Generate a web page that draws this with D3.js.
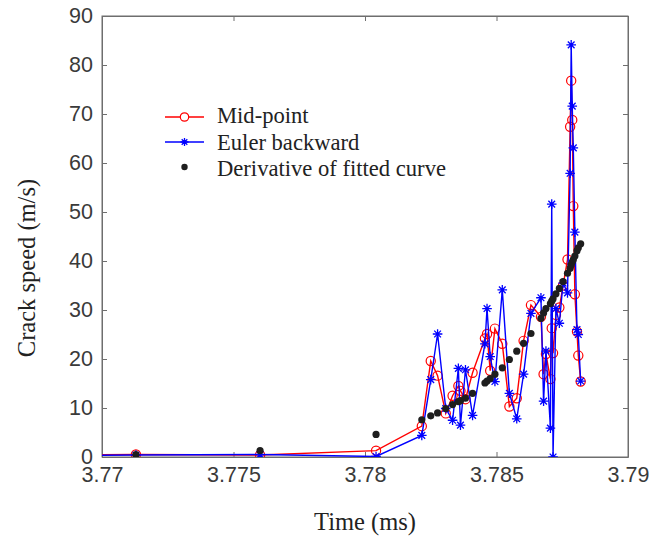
<!DOCTYPE html>
<html>
<head>
<meta charset="utf-8">
<script src="https://cdn.jsdelivr.net/npm/d3@7"></script>
<style>
  body { margin: 0; background: #fff; }
  svg { display: block; }
</style>
</head>
<body>
<svg id="chart" width="649" height="541"></svg>
<script>
// time stamps (ms), shared by all three series
const timeMs = [3.7695, 3.77129, 3.77601, 3.78042, 3.78216, 3.78250, 3.78276, 3.78307, 3.78333, 3.78355,
  3.78363, 3.78382, 3.78409, 3.78456, 3.78464, 3.78476, 3.78494, 3.78522, 3.78549, 3.78577,
  3.78603, 3.78631, 3.78669, 3.78679, 3.78688, 3.78705, 3.78710, 3.78715, 3.78726, 3.78739,
  3.78753, 3.78770, 3.78780, 3.78784, 3.78788, 3.78792, 3.78798, 3.78806, 3.78811, 3.78820];

const midPoint = [0.45, 0.5, 0.4, 1.3, 6.3, 19.6, 16.6, 8.9, 12.5, 14.5,
  13.5, 11.8, 17.2, 24.2, 25.1, 17.6, 26.2, 23.1, 10.3, 12.0,
  23.7, 31.0, 28.6, 16.9, 21.0, 15.9, 26.3, 21.2, 29.0, 30.5,
  35.0, 40.3, 67.4, 76.8, 68.8, 51.2, 33.2, 25.6, 20.7, 15.4];

const eulerBackward = [0.35, 0.4, 0.5, 0.1, 4.4, 15.8, 25.1, 9.9, 7.5, 18.1,
  6.5, 17.8, 8.5, 23.1, 30.3, 20.5, 15.4, 34.1, 13.0, 7.8,
  16.9, 29.3, 32.5, 11.4, 21.6, 5.9, 51.6, 0.0, 30.3, 27.3,
  35.5, 33.5, 57.9, 84.1, 71.6, 63.1, 45.9, 26.0, 25.0, 15.5];

const fittedDerivative = [0.4, 0.5, 1.3, 4.6, 7.6, 8.4, 9.0, 9.9, 10.7, 11.3,
  11.5, 12.0, 13.0, 15.1, 15.5, 16.0, 16.9, 18.2, 19.9, 21.6,
  23.2, 25.2, 28.3, 29.4, 30.3, 31.3, 31.8, 32.3, 33.3, 34.4,
  35.8, 37.5, 38.5, 39.2, 39.8, 40.3, 41.0, 42.1, 42.7, 43.5];

const xTicks = [3.77, 3.775, 3.78, 3.785, 3.79];
const yTicks = [0, 10, 20, 30, 40, 50, 60, 70, 80, 90];
const legendLabels = ["Mid-point", "Euler backward", "Derivative of fitted curve"];

const svg = d3.select("#chart");
const plotLeft = 102, plotRight = 628, plotTop = 16, plotBottom = 457;

const x = d3.scaleLinear().domain([3.77, 3.79]).range([plotLeft, plotRight]);
const y = d3.scaleLinear().domain([0, 90]).range([plotBottom, plotTop]);

const sans = "'Liberation Sans', Arial, sans-serif";
const serif = "'Liberation Serif', 'Times New Roman', serif";

// clip for the data
svg.append("clipPath").attr("id", "plotClip")
  .append("rect").attr("x", plotLeft).attr("y", plotTop - 6)
  .attr("width", plotRight - plotLeft).attr("height", plotBottom - plotTop + 6);

// axes (box with inward ticks)
const axisColor = "#6e6e6e";
const xAxis = svg.append("g").attr("transform", `translate(0,${plotBottom})`)
  .call(d3.axisBottom(x).tickValues(xTicks).tickSizeInner(-5).tickSizeOuter(0).tickPadding(9)
    .tickFormat(d3.format("")));
const yAxis = svg.append("g").attr("transform", `translate(${plotLeft},0)`)
  .call(d3.axisLeft(y).tickValues(yTicks).tickSizeInner(-5).tickSizeOuter(0).tickPadding(9));
const xTop = svg.append("g").attr("transform", `translate(0,${plotTop})`)
  .call(d3.axisTop(x).tickValues(xTicks).tickSizeInner(-5).tickSizeOuter(0).tickFormat(""));
const yRight = svg.append("g").attr("transform", `translate(${plotRight},0)`)
  .call(d3.axisRight(y).tickValues(yTicks).tickSizeInner(-5).tickSizeOuter(0).tickFormat(""));

[xAxis, yAxis, xTop, yRight].forEach((a) => {
  a.select(".domain").attr("stroke", axisColor).attr("stroke-width", 1);
  a.selectAll(".tick line").attr("stroke", axisColor);
  a.selectAll(".tick text").attr("fill", "#3a3a3a")
    .style("font-family", sans).style("font-size", "21.5px");
});
// frame round the plot
svg.append("rect").attr("x", plotLeft).attr("y", plotTop)
  .attr("width", plotRight - plotLeft).attr("height", plotBottom - plotTop)
  .attr("fill", "none").attr("stroke", axisColor).attr("stroke-width", 1);
xAxis.selectAll(".tick text").attr("dy", "0.75em");

// axis labels
svg.append("text").attr("x", (plotLeft + plotRight) / 2).attr("y", 530)
  .attr("text-anchor", "middle").style("font-family", serif).style("font-size", "24.5px")
  .attr("fill", "#222").text("Time (ms)");
svg.append("text").attr("transform", "translate(35,268) rotate(-90)")
  .attr("text-anchor", "middle").style("font-family", serif).style("font-size", "24.5px")
  .attr("fill", "#222").text("Crack speed (m/s)");

const plot = svg.append("g").attr("clip-path", "url(#plotClip)");

const rows = timeMs.map((t, i) => ({ t, mid: midPoint[i], euler: eulerBackward[i], deriv: fittedDerivative[i] }));

const line = (key) => d3.line().x((d) => x(d.t)).y((d) => y(d[key]));

const starPath = (s) => `M${-s},0L${s},0M0,${-s}L0,${s}M${-s * 0.7},${-s * 0.7}L${s * 0.7},${s * 0.7}M${-s * 0.7},${s * 0.7}L${s * 0.7},${-s * 0.7}`;

// Mid-point (red)
plot.append("path").datum(rows).attr("d", line("mid"))
  .attr("fill", "none").attr("stroke", "#ff0000").attr("stroke-width", 1.4);
plot.selectAll("circle.mid").data(rows).join("circle").attr("class", "mid")
  .attr("cx", (d) => x(d.t)).attr("cy", (d) => y(d.mid)).attr("r", 4.6)
  .attr("fill", "none").attr("stroke", "#ff0000").attr("stroke-width", 1.2);

// Euler backward (blue)
plot.append("path").datum(rows).attr("d", line("euler"))
  .attr("fill", "none").attr("stroke", "#0000ff").attr("stroke-width", 1.4);
plot.selectAll("path.euler").data(rows).join("path").attr("class", "euler")
  .attr("transform", (d) => `translate(${x(d.t)},${y(d.euler)})`)
  .attr("d", starPath(4.8)).attr("stroke", "#0000ff").attr("stroke-width", 1.3);

// Derivative of fitted curve (black dots)
plot.selectAll("circle.deriv").data(rows).join("circle").attr("class", "deriv")
  .attr("cx", (d) => x(d.t)).attr("cy", (d) => y(d.deriv)).attr("r", 3.6)
  .attr("fill", "#1e1e1e");

// legend
const legendY = [117, 142, 167];
const lg = svg.append("g");
legendLabels.forEach((label, i) => {
  const yy = legendY[i];
  if (i === 0) {
    lg.append("line").attr("x1", 165).attr("x2", 204).attr("y1", yy).attr("y2", yy)
      .attr("stroke", "#ff0000").attr("stroke-width", 1.4);
    lg.append("circle").attr("cx", 184.5).attr("cy", yy).attr("r", 4.2)
      .attr("fill", "#fff").attr("stroke", "#ff0000").attr("stroke-width", 1.2);
  } else if (i === 1) {
    lg.append("line").attr("x1", 165).attr("x2", 204).attr("y1", yy).attr("y2", yy)
      .attr("stroke", "#0000ff").attr("stroke-width", 1.4);
    lg.append("path").attr("transform", `translate(184.5,${yy})`).attr("d", starPath(4))
      .attr("stroke", "#0000ff").attr("stroke-width", 1.3);
  } else {
    lg.append("circle").attr("cx", 184.5).attr("cy", yy).attr("r", 3.2).attr("fill", "#1e1e1e");
  }
  lg.append("text").attr("x", 217).attr("y", yy + 6 + i * 1.5)
    .style("font-family", serif).style("font-size", "22.6px").attr("fill", "#222").text(label);
});
</script>
</body>
</html>
